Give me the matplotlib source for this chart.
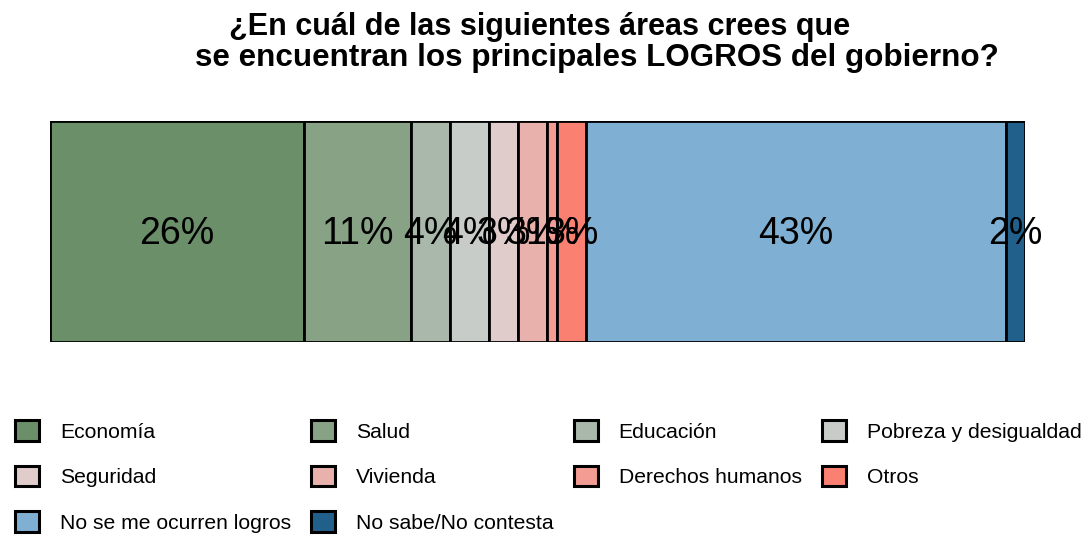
import matplotlib
matplotlib.use("Agg")
import matplotlib.pyplot as plt
from matplotlib.patches import Patch

plt.rcParams["font.family"] = ["Liberation Sans", "DejaVu Sans"]

# ---- Data ----
categories = [
    "Economía", "Salud", "Educación", "Pobreza y desigualdad", "Seguridad",
    "Vivienda", "Derechos humanos", "Otros", "No se me ocurren logros",
    "No sabe/No contesta",
]
values = [26, 11, 4, 4, 3, 3, 1, 3, 43, 2]
colors = [
    "#6b8f69", "#88a286", "#a9b8aa", "#c8ccc9", "#dfcccb",
    "#e8b1ac", "#f29c93", "#fa8072", "#7fafd2", "#22608c",
]

W, H = 1084, 535
fig = plt.figure(figsize=(W / 100, H / 100), dpi=100)
ax = fig.add_axes([50 / W, (H - 342) / H, 975 / W, 221 / H])

left = 0
for cat, val, col in zip(categories, values, colors):
    ax.barh(0, val, left=left, height=1, color=col, edgecolor="black",
            linewidth=2.0, label=cat)
    ax.text(left + val / 2, -0.01, f"{val}%", ha="center", va="center",
            fontsize=27, color="black")
    left += val

ax.set_xlim(0, sum(values))
ax.set_ylim(-0.5, 0.5)
ax.axis("off")

# ---- Title (two lines, each centred separately) ----
fig.text(540 / W, 1 - 27 / H, "¿En cuál de las siguientes áreas crees que",
         ha="center", va="center", fontsize=22, fontweight="bold")
fig.text(597 / W, 1 - 58 / H, "se encuentran los principales LOGROS del gobierno?",
         ha="center", va="center", fontsize=22.6, fontweight="bold")

# ---- Legend (row-major look with 4 columns) ----
order = [0, 4, 8, 1, 5, 9, 2, 6, 3, 7]
handles = [Patch(facecolor=colors[i], edgecolor="black", linewidth=2.2,
                 label=categories[i]) for i in order]
fs = 15.2
px = fs * 100 / 72
fig.legend(handles=handles, loc="upper left", ncol=4,
           bbox_to_anchor=(15 / W, 1 - 420 / H), frameon=False,
           fontsize=fs, borderpad=0, borderaxespad=0,
           handlelength=24 / px, handleheight=24 / px,
           handletextpad=21 / px, labelspacing=24 / px,
           columnspacing=20 / px)

fig.savefig("out.png", dpi=100)
